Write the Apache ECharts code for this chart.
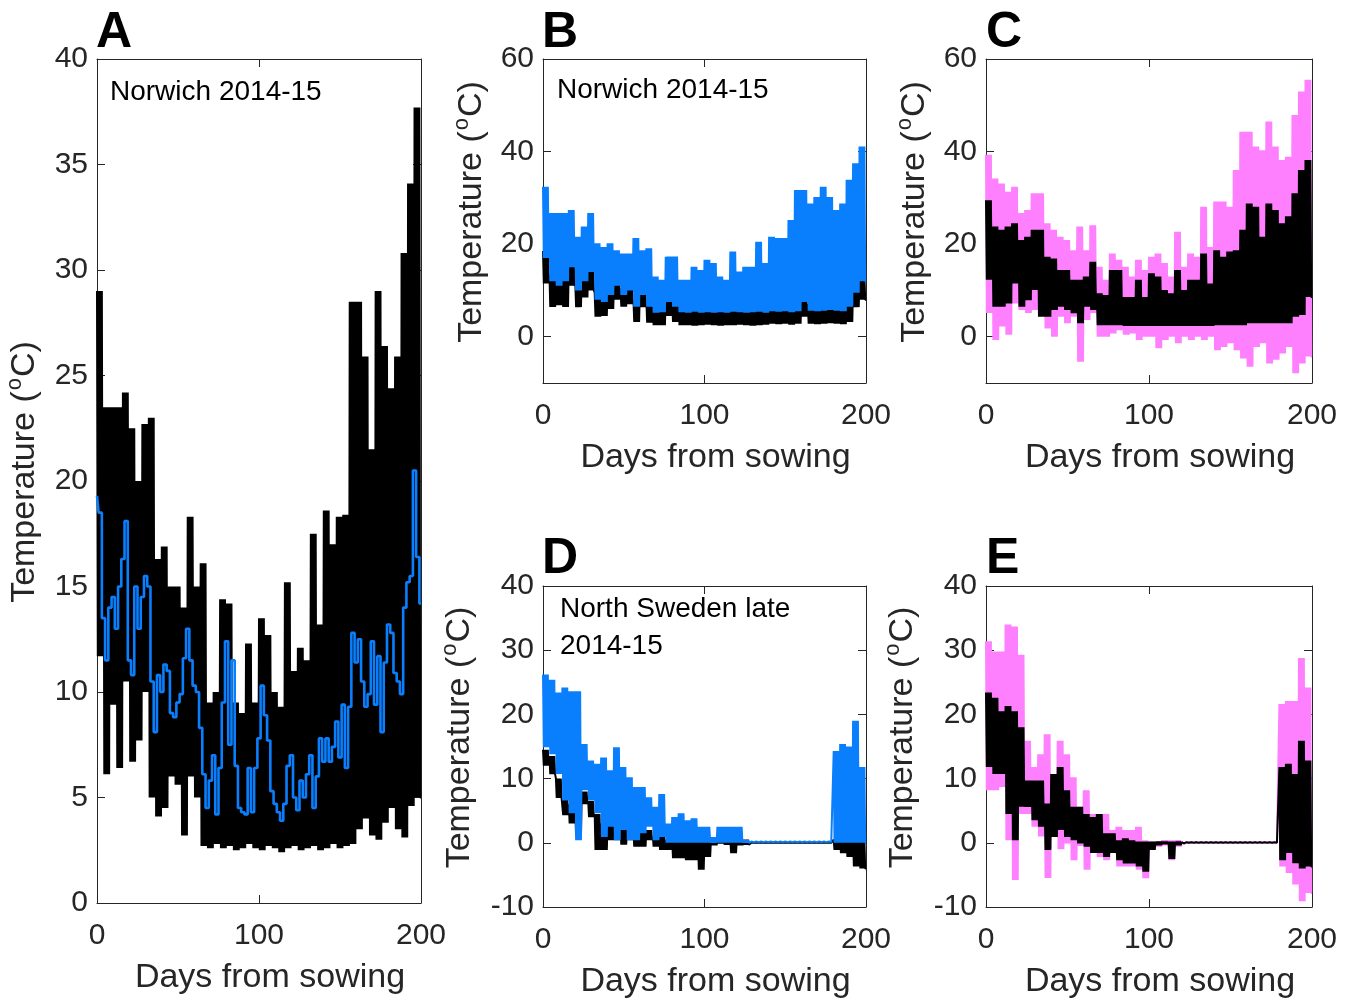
<!DOCTYPE html>
<html>
<head>
<meta charset="utf-8">
<script src="https://cdn.jsdelivr.net/npm/echarts@6/dist/echarts.min.js"></script>
<style>html,body{margin:0;padding:0;background:#fff;}#c{width:1355px;height:1000px;}</style>
</head>
<body>
<div id="c"></div>
<script>
// ---------------- DATA ----------------
// Envelope series: one high and one low value per 4-day block, days 0..200
const BIN_DAYS = 4;
const xTicks = [0, 100, 200];
const yTicksA = [0, 5, 10, 15, 20, 25, 30, 35, 40];
const yTicksBC = [0, 20, 40, 60];
const yTicksDE = [-10, 0, 10, 20, 30, 40];

// Panel A (Norwich 2014-15)
const aBlackHi = [29, 23.5, 23.5, 23.5, 24.2, 22.5, 20, 22.7, 23, 16.3,
  16.9, 15, 15, 14, 18.3, 15, 16.1, 9.5, 10, 14.4,
  14.2, 9.5, 9, 12.3, 9.5, 13.5, 12.7, 10, 9.3, 15.2,
  11, 12.1, 11.5, 17.5, 13.2, 18.6, 17, 18.3, 18.4, 28.5,
  28.5, 25.9, 21.5, 29, 26.4, 24.4, 25.9, 30.8, 34.1, 37.7];
const aBlackLo = [11.7, 6.1, 9.4, 6.4, 10.5, 6.7, 7.7, 10, 5.0, 4.1,
  4.5, 6, 5.6, 3.2, 6, 5, 2.7, 2.6, 2.8, 2.6,
  2.7, 2.5, 2.6, 2.8, 2.6, 2.5, 2.7, 2.6, 2.4, 2.6,
  2.7, 2.5, 2.6, 2.7, 2.5, 2.6, 2.8, 2.6, 2.7, 2.8,
  3.5, 4, 3.2, 3, 3.8, 4.5, 3.5, 3.1, 4.6, 5];
// Blue line in A: one value every 2 days, days 0..200
const aBlueStep = 2;
const aBlue = [19.3, 18.5, 13.5, 11.5, 14.0, 14.5, 13.0, 15.0, 16.3, 18.1,
  11.5, 10.8, 15.0, 13.0, 14.5, 15.5, 15.0, 10.5, 8.1, 10.8,
  10.0, 11.3, 11.0, 9.0, 8.8, 9.5, 9.9, 11.6, 13.0, 11.5,
  10.3, 10.0, 8.3, 6.1, 4.5, 5.8, 7.0, 4.2, 6.4, 9.5,
  12.4, 7.5, 11.5, 6.5, 4.5, 4.3, 4.2, 6.4, 4.3, 6.4,
  7.8, 10.3, 8.9, 7.7, 5.3, 4.7, 4.3, 3.9, 4.7, 6.5,
  7.0, 5.0, 4.4, 5.8, 5.0, 6.1, 7.0, 4.5, 6.0, 7.8,
  6.7, 7.8, 6.7, 7.4, 8.6, 6.9, 9.4, 6.4, 9.3, 12.8,
  11.4, 12.5, 10.5, 9.3, 9.9, 12.4, 9.4, 11.7, 8.1, 11.4,
  13.2, 12.8, 10.9, 10.5, 9.9, 14.0, 15.2, 15.5, 20.5, 16.4,
  14.2];

// Panel B (Norwich 2014-15)
const bBlackHi = [18.5, 13.5, 12.5, 13.5, 16.5, 11.5, 13.5, 15.5, 9.5, 9,
  10.5, 12.5, 10.5, 11.5, 8, 10.5, 8, 6.7, 6.8, 9,
  8, 6.8, 6.7, 6.9, 6.7, 6.8, 6.7, 6.8, 6.7, 6.9,
  6.8, 6.7, 6.8, 6.9, 6.7, 7, 6.9, 7, 6.8, 7,
  9, 7.1, 7, 7.1, 7.3, 7.1, 7, 8, 11, 13.5];
const bBlackLo = [11.5, 6.4, 6.8, 6.4, 11, 6.4, 8.5, 10, 4.3, 4.5,
  6, 8, 6.5, 7, 3.2, 6.4, 3, 2.5, 2.5, 4.5,
  3.2, 2.5, 2.5, 2.4, 2.5, 2.6, 2.5, 2.4, 2.5, 2.5,
  2.6, 2.5, 2.4, 2.5, 2.6, 2.8, 2.7, 2.8, 2.6, 2.8,
  4.3, 2.8, 2.7, 2.8, 2.9, 2.8, 2.7, 3.2, 6.4, 8];
const bBlueHi = [32.4, 26.7, 26.7, 26.7, 27.4, 21.6, 23.8, 26.7, 20.2, 19.4,
  20.2, 18.7, 18, 18, 21.3, 18.7, 19.1, 13, 12.3, 17.3,
  17.3, 12.3, 12.3, 15.1, 14.4, 16.6, 15.9, 13, 12.3, 18.4,
  14.1, 15.1, 15.1, 20.5, 15.9, 21.6, 21.3, 21.3, 25.2, 31.7,
  31.7, 28.8, 30.2, 32.4, 30.2, 27.4, 28.8, 33.9, 37.5, 41.1];
const bBlueLo = [17, 12, 11, 12, 15, 10, 12, 14, 8, 7.5,
  9, 11, 9, 10, 6.5, 9, 6.5, 5.2, 5.3, 7.5,
  6.5, 5.3, 5.2, 5.4, 5.2, 5.3, 5.2, 5.3, 5.2, 5.4,
  5.3, 5.2, 5.3, 5.4, 5.2, 5.5, 5.4, 5.5, 5.3, 5.5,
  7.5, 5.6, 5.5, 5.6, 5.8, 5.6, 5.5, 6.5, 9.5, 12];

// Panel C
const cPinkHi = [39.3, 34.2, 33.1, 31.3, 32.4, 26.7, 27.4, 31, 31, 24.5,
  23.1, 21.6, 20.9, 18.7, 23.8, 18.7, 24.1, 15.1, 12.3, 18,
  16.6, 15.1, 13, 16.6, 14.4, 17.3, 18, 15.9, 13, 22.7,
  15.1, 18, 17.3, 28.1, 19.4, 29.2, 29.2, 28.1, 36, 44.3,
  44.3, 41.1, 40.3, 46.5, 41.1, 38.2, 38.9, 47.9, 53, 55.5];
const cPinkLo = [5.1, -0.7, 2.2, 0.4, 7.2, 5.8, 5.1, 5.8, 8.6, 1.8,
  0, 4.3, 2.9, 4.3, -5.4, 3.6, 5.1, 0, 0, 0.7,
  1.4, 0.4, 0.7, -0.7, 0, 0, -2.5, -0.7, 0, -1.4,
  0, -0.7, 0, -0.7, 0, -2.9, -2.2, -1.4, -2.9, -4.7,
  -6.5, -2.2, -1.4, -5.8, -5, -3.6, -2.2, -7.9, -5.8, -4.3];
const cBlackHi = [29.5, 23.8, 23.1, 23.8, 24.5, 20.9, 21.6, 23.1, 23.1, 17.3,
  16.9, 14.4, 14.4, 12.3, 12.3, 13, 16.2, 9.4, 9, 14.4,
  14.4, 8.6, 8.6, 12.3, 8.6, 13.7, 13, 10.1, 9.4, 14.4,
  10.1, 12.3, 12.3, 18, 11.5, 18.7, 17.3, 18.4, 18.7, 23.1,
  28.8, 28.1, 21.6, 28.8, 27.4, 24.5, 26, 31, 36, 38.2];
const cBlackLo = [12.3, 6.5, 6.5, 7.2, 11.5, 6.5, 7.9, 10.1, 4.3, 4.3,
  5.8, 6.5, 5.8, 5.1, 2.9, 6.5, 5.8, 2.5, 2.5, 2.5,
  2.5, 2.3, 2.3, 2.3, 2.3, 2.3, 2.3, 2.3, 2.3, 2.3,
  2.3, 2.3, 2.3, 2.3, 2.3, 2.5, 2.5, 2.5, 2.5, 2.5,
  2.9, 2.9, 2.9, 2.9, 2.9, 2.9, 2.9, 4.3, 4.7, 8.6];

// Panel D (North Sweden late 2014-15)
const dBlackHi = [14.5, 13.5, 10, 7, 6, 5, 8, 6.5, 4.5, 3,
  3, 2.5, 2.5, 2, 2, 1.5, 2, 1, 1, 0.5,
  0.5, 0.5, 0.5, 0.5, 0.5, 0.5, 0.5, 0.5, 0.5, 0.5,
  0.5, 0.5, 0, 0, 0, 0, 0, 0, 0, 0,
  0, 0, 0, 0, 0, 0.5, 0.5, 0.5, 0.5, 0.5];
const dBlackLo = [12, 10.7, 7, 4.3, 3, 1, 6, 4, -1.1, -1.1,
  0.4, 0.4, -0.3, 0.4, -0.6, -0.6, 0.4, -0.6, -1.1, -1.1,
  -2.4, -2.4, -2.7, -2.7, -4.2, -2.2, -0.4, -0.1, -0.3, -1.6,
  -0.4, -0.3, 0, 0, 0, 0, 0, 0, 0, 0,
  0, 0, 0, 0, 0, -1.1, -1.6, -2.2, -3.7, -4];
const dBlueHi = [26.2, 25.4, 23.4, 24.2, 23.6, 23.6, 15.4, 12.8, 12.3, 13.3,
  11.3, 14.9, 11.8, 10.2, 8.7, 8.7, 7.1, 5.6, 7.6, 3,
  4, 4.6, 3.5, 3.8, 2.5, 2.5, 0.9, 2.5, 2.5, 2.5,
  2.5, 0.4, 0.2, 0.2, 0.2, 0.2, 0.2, 0.2, 0.2, 0.2,
  0.2, 0.2, 0.2, 0.2, 0.2, 14.3, 15.4, 15, 19, 11.8];
const dBlueLo = [14.9, 13.8, 10.7, 6.6, 4.6, 0.4, 8.2, 6.6, 4.6, 0.9,
  2.5, 0.4, 2, 0.4, 0.4, 1.5, 2.5, 0.4, 0.9, 0,
  0, 0, 0, 0, 0, 0, 0, 0, 0, 0,
  0, 0, 0.1, 0.1, 0.1, 0.1, 0.1, 0.1, 0.1, 0.1,
  0.1, 0.1, 0.1, 0.1, 0.1, 0, 0, 0, 0, 0];

// Panel E
const ePinkHi = [31.4, 29.8, 29.8, 34, 33.7, 29.3, 15.9, 11.8, 13.8, 16.9,
  10.7, 15.9, 13.8, 10.2, 5.6, 8.2, 4.5, 3.5, 4.5, 2,
  2.5, 2, 2, 2.5, 0.4, 0.2, 0.2, 0.4, 0.4, 0.4,
  0.1, 0.1, 0.1, 0.1, 0.1, 0.1, 0.1, 0.1, 0.1, 0.1,
  0.1, 0.1, 0.1, 0.1, 0.1, 21.6, 22.1, 22.1, 28.8, 24.2];
const ePinkLo = [8.2, 8.2, 8.7, 0.4, -5.8, 4.5, 4.5, 2.5, 1, -5.5,
  1.5, -1, -0.1, -2.7, -0.5, -4.2, -1.6, -2.2, -2.7, -1.6,
  -3.7, -3.7, -3.7, -4.2, -5.5, -1.1, -0.6, -0.4, -2.7, -0.6,
  -0.2, 0, 0, 0, 0, 0, 0, 0, 0, 0,
  0, 0, 0, 0, 0, -3.7, -4.7, -6.5, -9.1, -7.8];
const eBlackHi = [23.4, 22.6, 20.5, 21.3, 20.5, 18, 9.7, 9.7, 9.7, 6.1,
  10.7, 11.8, 8.2, 5.6, 5.6, 4.5, 4, 4.5, 1.5, 1.5,
  0.4, 0.7, 0.4, 0.2, 0.2, 0.2, 0.2, 0.2, 0.2, 0.2,
  0.1, 0.1, 0.1, 0.1, 0.1, 0.1, 0.1, 0.1, 0.1, 0.1,
  0.1, 0.1, 0.1, 0.1, 0.1, 11.8, 12.3, 10.7, 15.9, 12.8];
const eBlackLo = [11.8, 10.7, 10.7, 4.5, 0.4, 5.6, 5.6, 3.5, 2.5, -1.1,
  0.9, 2, 0.9, 0.4, -0.1, -0.6, -1.6, -1.6, -2.2, -1.6,
  -2.7, -3.2, -3.2, -3.7, -4.5, -1.1, -0.4, -0.2, -2.5, -0.4,
  -0.1, 0, 0, 0, 0, 0, 0, 0, 0, 0,
  0, 0, 0, 0, 0, -2.7, -1.6, -3.2, -4, -3.7];

// ---------------- BUILD ----------------
// Each block's daily swings between its read high and low (one swing per day)
function envelope(hi, lo) {
  const d = [];
  for (let i = 0; i < hi.length; i++) {
    for (let k = 0; k < BIN_DAYS; k++) {
      d.push([i * BIN_DAYS + k, hi[i]]);
      d.push([i * BIN_DAYS + k + 0.5, lo[i]]);
    }
  }
  d.push([hi.length * BIN_DAYS, lo[lo.length - 1]]);
  return d;
}
function stepped(vals, step) { return vals.map((v, i) => [i * step, v]); }

const FONT = '"Liberation Sans", Arial, sans-serif';
const AX = '#262626';
const BLUE = '#0a7ffd';
const PINK = '#ff80ff';

const grids = [
  {left: 97, top: 59, width: 324, height: 851},
  {left: 543, top: 59, width: 323, height: 324},
  {left: 986, top: 59, width: 326, height: 324},
  {left: 543, top: 586, width: 323, height: 323},
  {left: 986, top: 586, width: 326, height: 323}
];
const yCfg = [
  {min: 0, max: 40, ticks: yTicksA, gap: 55},
  {min: -10, max: 60, ticks: yTicksBC, gap: 54},
  {min: -10, max: 60, ticks: yTicksBC, gap: 54},
  {min: -10, max: 40, ticks: yTicksDE, gap: 66},
  {min: -10, max: 40, ticks: yTicksDE, gap: 66}
];

const xAxes = [], yAxes = [];
grids.forEach((g, i) => {
  xAxes.push({
    type: 'value', gridIndex: i, min: 0, max: 200, position: 'bottom',
    name: 'Days from sowing', nameLocation: 'middle', nameGap: 58,
    nameTextStyle: {fontSize: 34, fontFamily: FONT, color: AX, padding: [0, 0, 0, 22]},
    axisLine: {show: true, onZero: false, lineStyle: {color: AX, width: 1}},
    axisTick: {show: true, inside: true, length: 8, customValues: xTicks, lineStyle: {color: AX}},
    axisLabel: {show: true, customValues: xTicks, fontSize: 30, fontFamily: FONT, color: AX, margin: 18},
    splitLine: {show: false}
  });
  xAxes.push({
    type: 'value', gridIndex: i, min: 0, max: 200, position: 'top',
    axisLine: {show: true, onZero: false, lineStyle: {color: AX, width: 1}},
    axisTick: {show: true, inside: true, length: 8, customValues: xTicks, lineStyle: {color: AX}},
    axisLabel: {show: false}, splitLine: {show: false}
  });
  const y = yCfg[i];
  yAxes.push({
    type: 'value', gridIndex: i, min: y.min, max: y.max, position: 'left',
    name: '{t|Temperature (}{s|o}{t|C)}', nameLocation: 'middle', nameGap: y.gap, nameRotate: 90,
    nameTextStyle: {
      padding: [0, 0, 0, 18],
      rich: {
        t: {fontSize: 34, fontFamily: FONT, color: AX, lineHeight: 38, verticalAlign: 'bottom'},
        s: {fontSize: 22, fontFamily: FONT, color: AX, lineHeight: 38, verticalAlign: 'top', padding: [0, 1, 0, 1]}
      }
    },
    axisLine: {show: true, onZero: false, lineStyle: {color: AX, width: 1}},
    axisTick: {show: true, inside: true, length: 8, customValues: y.ticks, lineStyle: {color: AX}},
    axisLabel: {show: true, customValues: y.ticks, fontSize: 30, fontFamily: FONT, color: AX, margin: 9, padding: [0, 0, 9, 0]},
    splitLine: {show: false}
  });
  yAxes.push({
    type: 'value', gridIndex: i, min: y.min, max: y.max, position: 'right',
    axisLine: {show: true, onZero: false, lineStyle: {color: AX, width: 1}},
    axisTick: {show: true, inside: true, length: 8, customValues: y.ticks, lineStyle: {color: AX}},
    axisLabel: {show: false}, splitLine: {show: false}
  });
});

function line(panel, data, color, width, step) {
  return {
    type: 'line', xAxisIndex: panel * 2, yAxisIndex: panel * 2, data: data,
    step: step, symbol: 'none', silent: true,
    lineStyle: {color: color, width: width}, clip: true
  };
}

const W = 2;
const series = [
  line(0, envelope(aBlackHi, aBlackLo), '#000', W, false),
  line(0, stepped(aBlue, aBlueStep), BLUE, 2.6, 'middle'),
  line(1, envelope(bBlackHi, bBlackLo), '#000', W, false),
  line(1, envelope(bBlueHi, bBlueLo), BLUE, W, false),
  line(2, envelope(cPinkHi, cPinkLo), PINK, W, false),
  line(2, envelope(cBlackHi, cBlackLo), '#000', W, false),
  line(3, envelope(dBlackHi, dBlackLo), '#000', W, false),
  line(3, envelope(dBlueHi, dBlueLo), BLUE, W, false),
  line(4, envelope(ePinkHi, ePinkLo), PINK, W, false),
  line(4, envelope(eBlackHi, eBlackLo), '#000', W, false)
];

function txt(left, top, text, font) {
  return {type: 'text', left: left, top: top, z: 100, style: {text: text, font: font, fill: '#000'}};
}
const LET = 'bold 50px ' + FONT;
const LAB = '28px ' + FONT;
const graphic = [
  txt(96, 8, 'A', LET), txt(542, 8, 'B', LET), txt(986, 8, 'C', LET),
  txt(542, 534, 'D', LET), txt(986, 534, 'E', LET),
  txt(110, 78, 'Norwich 2014-15', LAB),
  txt(557, 76, 'Norwich 2014-15', LAB),
  txt(560, 595, 'North Sweden late', LAB),
  txt(560, 632, '2014-15', LAB)
];

const chart = echarts.init(document.getElementById('c'), null, {renderer: 'canvas'});
chart.setOption({
  animation: false,
  backgroundColor: '#fff',
  grid: grids,
  xAxis: xAxes,
  yAxis: yAxes,
  series: series,
  graphic: graphic
});
</script>
</body>
</html>
